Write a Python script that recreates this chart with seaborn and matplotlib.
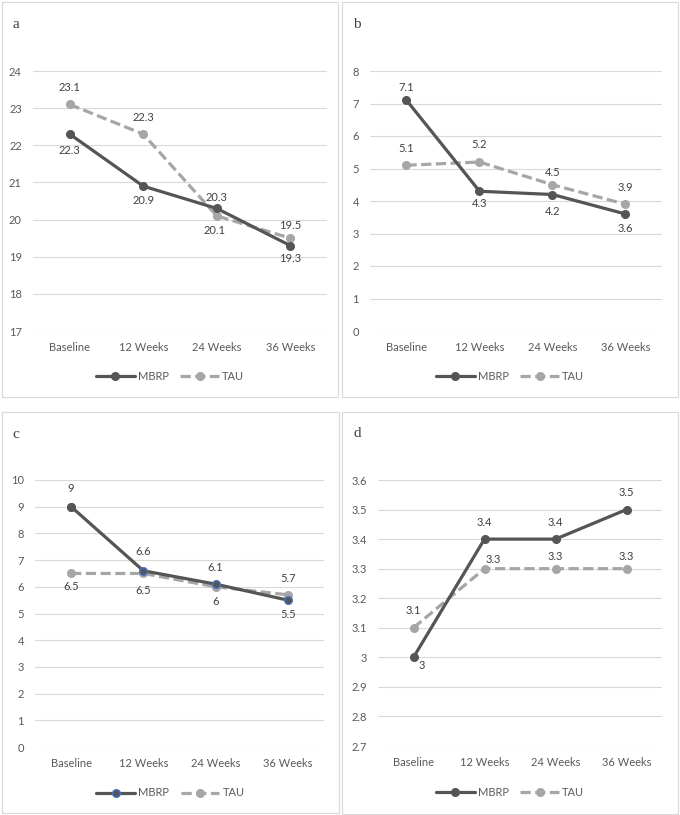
import matplotlib
matplotlib.use("Agg")
import matplotlib.pyplot as plt
import pandas as pd
import seaborn as sns
from matplotlib.patches import Rectangle

# ---------------------------------------------------------------------------
# Data
# ---------------------------------------------------------------------------
timepoints = ["Baseline", "12 Weeks", "24 Weeks", "36 Weeks"]
groups = ["MBRP", "TAU"]
panel_ids = ["a", "b", "c", "d"]

mbrp_a = [22.3, 20.9, 20.3, 19.3]
tau_a = [23.1, 22.3, 20.1, 19.5]
mbrp_b = [7.1, 4.3, 4.2, 3.6]
tau_b = [5.1, 5.2, 4.5, 3.9]
mbrp_c = [9, 6.6, 6.1, 5.5]
tau_c = [6.5, 6.5, 6, 5.7]
mbrp_d = [3, 3.4, 3.4, 3.5]
tau_d = [3.1, 3.3, 3.3, 3.3]

yticks_a = [17, 18, 19, 20, 21, 22, 23, 24]
yticks_b = [0, 1, 2, 3, 4, 5, 6, 7, 8]
yticks_c = [0, 1, 2, 3, 4, 5, 6, 7, 8, 9, 10]
yticks_d = [2.7, 2.8, 2.9, 3.0, 3.1, 3.2, 3.3, 3.4, 3.5, 3.6]
ytick_labels_d = ["2.7", "2.8", "2.9", "3", "3.1", "3.2", "3.3", "3.4", "3.5", "3.6"]

# ---------------------------------------------------------------------------
# Layout / style (pixel boxes on a 680x815 canvas)
# ---------------------------------------------------------------------------
FIG_W, FIG_H = 680, 815
PANEL_BOX = {"a": (2, 2, 338, 397), "b": (342, 2, 678, 397),
             "c": (2, 412, 339, 813), "d": (342, 412, 678, 814)}
PLOT_BOX = {"a": (33, 71, 327, 331), "b": (370, 71, 662, 331),
            "c": (35, 480, 324, 747), "d": (378, 480, 662, 746)}
LETTER_POS = {"a": (16, 25), "b": (357, 25), "c": (16, 435), "d": (357, 433)}
LEGEND_Y = {"a": 376, "b": 376, "c": 793, "d": 792}

# data label offsets in pixels (dx, dy up)
LABEL_OFFSETS = {
    "a": {"MBRP": [(0, -16), (0, -14), (0, 11), (0, -13)],
          "TAU": [(0, 17), (0, 17), (-2, -15), (0, 13)]},
    "b": {"MBRP": [(0, 13), (0, -12), (0, -17), (0, -15)],
          "TAU": [(0, 17), (0, 18), (0, 12), (0, 17)]},
    "c": {"MBRP": [(0, 18), (0, 19), (0, 17), (0, -14)],
          "TAU": [(0, -13), (0, -17), (0, -15), (0, 16)]},
    "d": {"MBRP": [(8, -8), (0, 17), (0, 17), (0, 17)],
          "TAU": [(0, 17), (9, 9), (0, 12), (0, 12)]},
}

DARK = "#555555"
LIGHT = "#A6A6A6"
BLUE = "#4472C4"
TEXT = "#595959"
GRID = "#D9D9D9"

sns.set_style("white")
plt.rcParams["font.family"] = ["Lato", "DejaVu Sans"]
plt.rcParams["font.size"] = 8


def fx(px):
    return px / FIG_W


def fy(py):
    return 1 - py / FIG_H


def draw_panel(fig, pid, mbrp, tau, yticks, ytick_labels=None, blue_edges=False):
    x0, y0, x1, y1 = PLOT_BOX[pid]
    ax = fig.add_axes([fx(x0), fy(y1), fx(x1 - x0), (y1 - y0) / FIG_H])

    df = pd.DataFrame({
        "time": timepoints * 2,
        "score": list(mbrp) + list(tau),
        "group": ["MBRP"] * 4 + ["TAU"] * 4,
    })
    sns.lineplot(data=df, x="time", y="score", hue="group", style="group",
                 hue_order=groups, style_order=groups,
                 palette={"MBRP": DARK, "TAU": LIGHT},
                 dashes={"MBRP": "", "TAU": (3.2, 1.4)},
                 markers={"MBRP": "o", "TAU": "o"},
                 linewidth=2.3, markersize=5.5, markeredgewidth=1.0,
                 markeredgecolor="auto", errorbar=None, legend=False, ax=ax)
    mbrp_line, tau_line = ax.lines[0], ax.lines[1]
    tau_line.set_zorder(2)
    mbrp_line.set_zorder(3)
    tau_line.set_dash_capstyle("butt")

    if blue_edges:
        mbrp_line.set_markeredgecolor(BLUE)
        # the baseline marker keeps its dark outline
        sns.scatterplot(x=[timepoints[0]], y=[mbrp[0]], color=DARK, s=30,
                        edgecolor=DARK, linewidth=1.0, zorder=4, ax=ax)

    # data labels
    for name, vals in zip(groups, [mbrp, tau]):
        for i, v in enumerate(vals):
            dx, dy = LABEL_OFFSETS[pid][name][i]
            ax.annotate(f"{v:g}", xy=(timepoints[i], v), xytext=(dx, dy),
                        textcoords="offset pixels", ha="center", va="center",
                        fontsize=8, color="#404040", zorder=5)

    ax.set_xlim(-0.5, 3.5)
    ax.set_ylim(yticks[0], yticks[-1])
    ax.set_yticks(yticks)
    if ytick_labels is not None:
        ax.set_yticklabels(ytick_labels)
    ax.set_xlabel("")
    ax.set_ylabel("")
    ax.tick_params(axis="both", length=0, colors=TEXT, labelsize=8)
    ax.tick_params(axis="y", pad=8)
    ax.tick_params(axis="x", pad=8)
    ax.yaxis.grid(True, color=GRID, lw=0.8)
    ax.xaxis.grid(False)
    ax.set_axisbelow(True)
    for s in ax.spines.values():
        s.set_visible(False)

    # legend centred under the panel box
    bx0, _, bx1, _ = PANEL_BOX[pid]
    fig.legend([mbrp_line, tau_line], groups, loc="center",
               bbox_to_anchor=(fx((bx0 + bx1) / 2), fy(LEGEND_Y[pid])),
               bbox_transform=fig.transFigure, ncol=2, frameon=False,
               handlelength=3.5, handletextpad=0.3, columnspacing=1.0,
               fontsize=8, labelcolor=TEXT)

    # panel frame and letter
    px0, py0, px1, py1 = PANEL_BOX[pid]
    fig.add_artist(Rectangle((fx(px0), fy(py1)), fx(px1 - px0), (py1 - py0) / FIG_H,
                             transform=fig.transFigure, fill=False,
                             edgecolor=GRID, lw=0.8))
    lx, ly = LETTER_POS[pid]
    fig.text(fx(lx), fy(ly), pid, ha="center", va="center", fontsize=11,
             family="Liberation Serif", color="#404040")
    return ax


fig = plt.figure(figsize=(FIG_W / 100, FIG_H / 100), dpi=100)
fig.patch.set_facecolor("white")

draw_panel(fig, "a", mbrp_a, tau_a, yticks_a)
draw_panel(fig, "b", mbrp_b, tau_b, yticks_b)
draw_panel(fig, "c", mbrp_c, tau_c, yticks_c, blue_edges=True)
draw_panel(fig, "d", mbrp_d, tau_d, yticks_d, ytick_labels_d)

fig.savefig("out.png", dpi=100)
